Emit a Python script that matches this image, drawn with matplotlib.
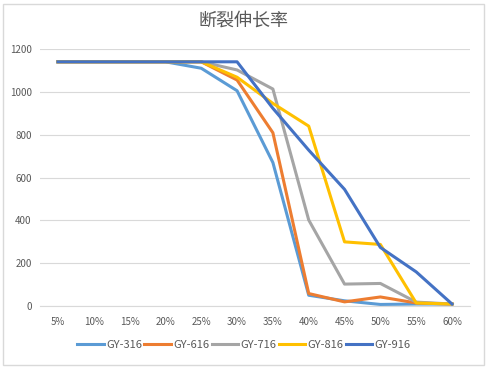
import matplotlib.pyplot as plt
from matplotlib.patches import Rectangle

plt.rcParams['font.family'] = ['Noto Sans CJK SC', 'DejaVu Sans']

categories = ["5%", "10%", "15%", "20%", "25%", "30%", "35%", "40%", "45%", "50%", "55%", "60%"]
gy316 = [1140, 1140, 1140, 1140, 1110, 1005, 670, 51, 25, 8, 10, 10]
gy616 = [1140, 1140, 1140, 1140, 1140, 1055, 809, 59, 20, 43, 15, 10]
gy716 = [1140, 1140, 1140, 1140, 1140, 1102, 1013, 402, 103, 106, 19, 10]
gy816 = [1140, 1140, 1140, 1140, 1140, 1068, 946, 840, 300, 288, 15, 10]
gy916 = [1140, 1140, 1140, 1140, 1140, 1140, 923, 728, 545, 274, 160, 10]

series = [("GY-316", gy316, "#5B9BD5"),
          ("GY-616", gy616, "#ED7D31"),
          ("GY-716", gy716, "#A5A5A5"),
          ("GY-816", gy816, "#FFC000"),
          ("GY-916", gy916, "#4472C4")]

fig = plt.figure(figsize=(4.88, 3.68), dpi=100)
ax = fig.add_axes([0.082, 0.168, 0.881, 0.699])

x = range(len(categories))
for name, vals, color in series:
    ax.plot(x, vals, color=color, linewidth=2.2, label=name)

ax.set_xlim(-0.5, len(categories) - 0.5)
ax.set_ylim(0, 1200)
ax.set_yticks(range(0, 1201, 200))
ax.set_xticks(list(x))
ax.set_xticklabels(categories)
ax.grid(axis='y', color='#D9D9D9', linewidth=0.8)
ax.set_axisbelow(True)
for s in ['top', 'right', 'left']:
    ax.spines[s].set_visible(False)
ax.spines['bottom'].set_color('#D9D9D9')
ax.tick_params(axis='both', length=0, labelsize=7, labelcolor='#595959', pad=8)
ax.tick_params(axis='y', pad=6)

fig.text(0.5, 0.945, "断裂伸长率", ha='center', va='center', fontsize=13, color='#595959')

fig.legend(loc='center', bbox_to_anchor=(0.5, 0.062), ncol=5, frameon=False,
           fontsize=8, labelcolor='#595959', handlelength=2.4, handletextpad=0.2,
           columnspacing=0.2)

fig.patches.append(Rectangle((0.006, 0.008), 0.985, 0.982, transform=fig.transFigure,
                             fill=False, edgecolor='#D9D9D9', linewidth=1))

fig.savefig('out.png', dpi=100)
